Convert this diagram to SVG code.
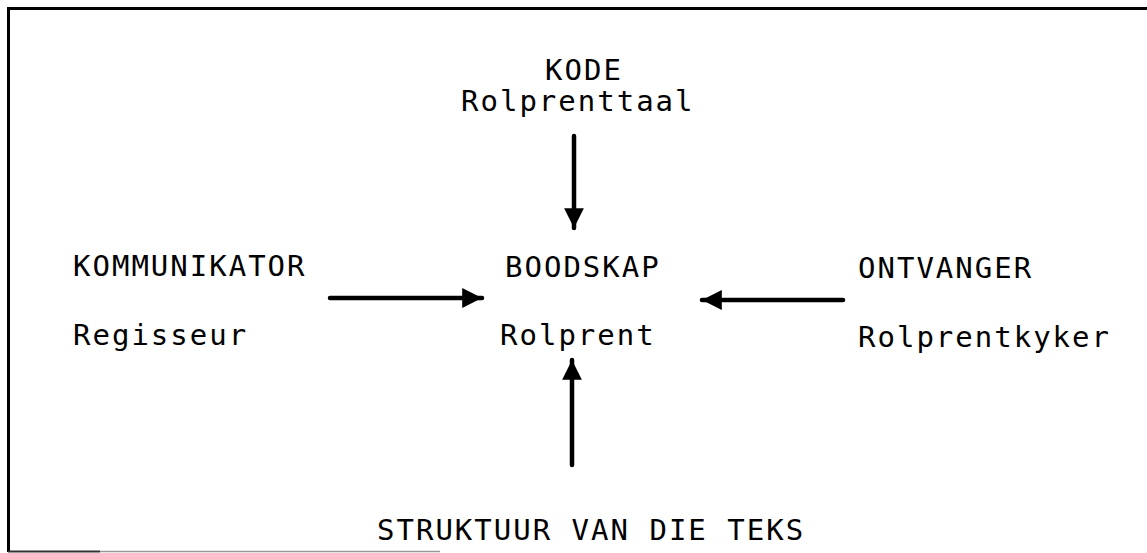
<svg xmlns="http://www.w3.org/2000/svg" width="1147" height="553" viewBox="0 0 1147 553">
  <style>
    .t { font-family: "DejaVu Sans Mono", "Liberation Mono", monospace; font-size: 29px; letter-spacing: 2px; fill: #000; }
    .frame { stroke: #000; stroke-width: 3; fill: none; }
    .conn { stroke: #000; stroke-width: 4.5; stroke-linecap: round; fill: none; }
  </style>
  <defs>
    <marker id="head" viewBox="0 0 10 10" refX="10" refY="5" markerWidth="4.4" markerHeight="4.6" markerUnits="strokeWidth" orient="auto">
      <path d="M0,0 L10,5 L0,10 Z" fill="#000"/>
    </marker>
  </defs>

  <!-- frame -->
  <g id="frame">
    <line class="frame" x1="8" y1="8.5" x2="1147" y2="8.5"/>
    <line class="frame" x1="8.5" y1="7" x2="8.5" y2="552"/>
    <line x1="8" y1="551.5" x2="100" y2="551.5" stroke="#333" stroke-width="2"/>
    <line x1="100" y1="551.5" x2="440" y2="551.5" stroke="#999" stroke-width="1.5"/>
  </g>

  <g id="kode">
    <text class="t" x="545" y="80">KODE</text>
    <text class="t" x="461" y="111">Rolprenttaal</text>
  </g>

  <g id="kommunikator">
    <text class="t" x="73" y="276">KOMMUNIKATOR</text>
    <text class="t" x="73" y="345">Regisseur</text>
  </g>

  <g id="boodskap">
    <text class="t" x="505" y="277">BOODSKAP</text>
    <text class="t" x="500" y="345">Rolprent</text>
  </g>

  <g id="ontvanger">
    <text class="t" x="858" y="278">ONTVANGER</text>
    <text class="t" x="858" y="347">Rolprentkyker</text>
  </g>

  <g id="struktuur">
    <text class="t" x="377" y="540">STRUKTUUR VAN DIE TEKS</text>
  </g>

  <!-- connectors -->
  <g id="connectors">
    <line class="conn" x1="574" y1="136" x2="574" y2="228" marker-end="url(#head)"/>
    <line class="conn" x1="330" y1="298" x2="482" y2="298" marker-end="url(#head)"/>
    <line class="conn" x1="843" y1="300" x2="702" y2="300" marker-end="url(#head)"/>
    <line class="conn" x1="572" y1="465" x2="572" y2="360" marker-end="url(#head)"/>
  </g>
</svg>
